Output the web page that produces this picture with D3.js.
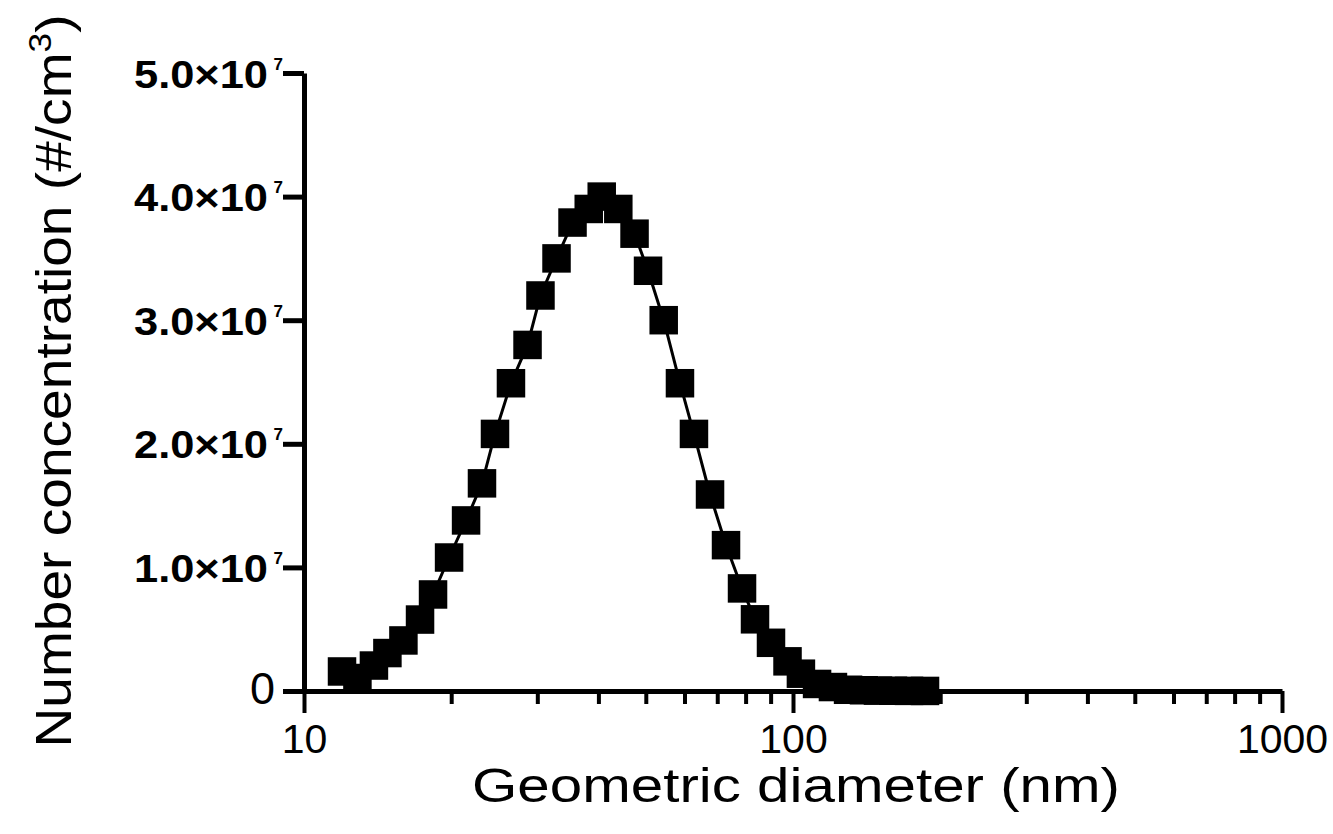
<!DOCTYPE html>
<html>
<head>
<meta charset="utf-8">
<script src="https://cdn.jsdelivr.net/npm/d3@7"></script>
<style>
  html, body { margin: 0; padding: 0; background: #fff; }
  svg { display: block; }
  text { font-family: "Liberation Sans", Arial, Helvetica, sans-serif; fill: #000; }
</style>
</head>
<body>
<svg id="chart" width="1333" height="834"></svg>
<script>
// ---- data ----
const diameters = [11.96, 12.86, 13.90, 14.81, 15.97, 17.27, 18.36, 19.80, 21.45, 23.12,
  24.58, 26.50, 28.65, 30.45, 32.84, 35.41, 38.22, 40.63, 43.93, 47.42,
  50.53, 54.40, 58.73, 62.73, 67.66, 72.95, 78.66, 83.62, 90.16, 97.45,
  103.8, 112.0, 120.7, 129.6, 139.7, 149.2, 160.1, 172.7, 186.2];
const concentrations = [1.58e6, 1.05e6, 2.06e6, 3.07e6, 4.09e6, 5.78e6, 7.81e6, 1.08e7, 1.38e7, 1.68e7,
  2.08e7, 2.49e7, 2.80e7, 3.20e7, 3.50e7, 3.79e7, 3.90e7, 4.00e7, 3.90e7, 3.70e7,
  3.40e7, 3.00e7, 2.49e7, 2.08e7, 1.59e7, 1.18e7, 8.3e6, 5.8e6, 3.9e6, 2.4e6,
  1.4e6, 5.7e5, 3.2e5, 1.0e5, 6e4, 3e4, 2e4, 1e4, 5e3];

const xMajorTicks = [10, 100, 1000];
const xMajorLabels = ["10", "100", "1000"];
const xMinorTicks = [20, 30, 40, 50, 60, 70, 80, 90, 200, 300, 400, 500, 600, 700, 800, 900];
const yTicks = [0, 1e7, 2e7, 3e7, 4e7, 5e7];
const yTickMantissas = ["0", "1.0×10", "2.0×10", "3.0×10", "4.0×10", "5.0×10"];
const yTickExponent = "7";
const xTitle = "Geometric diameter (nm)";
const yTitleMain = "Number concentration (#/cm";
const yTitleSup = "3";
const yTitleEnd = ")";

// ---- layout ----
const svg = d3.select("#chart");
const x = d3.scaleLog().domain([10, 1000]).range([304, 1282]);
const y = d3.scaleLinear().domain([0, 5e7]).range([691, 73]);

const AXW = 5;

// x axis: minor ticks
svg.append("g")
  .attr("transform", `translate(0,${y(0)})`)
  .call(d3.axisBottom(x).tickValues(xMinorTicks).tickSize(13).tickSizeOuter(0).tickFormat(""))
  .call(g => g.select(".domain").remove())
  .call(g => g.selectAll(".tick line").attr("stroke", "#000").attr("stroke-width", 4));

// x axis: major ticks + domain
svg.append("g")
  .attr("transform", `translate(0,${y(0)})`)
  .call(d3.axisBottom(x).tickValues(xMajorTicks).tickSize(22).tickSizeOuter(0)
        .tickFormat((d, i) => xMajorLabels[i]))
  .call(g => g.select(".domain").attr("stroke", "#000").attr("stroke-width", AXW))
  .call(g => g.selectAll(".tick line").attr("stroke", "#000").attr("stroke-width", 4))
  .call(g => g.selectAll(".tick text")
      .attr("y", 62).attr("dy", 0)
      .attr("font-size", 41).attr("font-family", "'Liberation Sans', Arial, sans-serif")
      .attr("fill", "#000"));

// y axis
const yAxisG = svg.append("g")
  .attr("transform", `translate(${x(10)},0)`)
  .call(d3.axisLeft(y).tickValues(yTicks).tickSize(21).tickSizeOuter(0).tickFormat(""))
  .call(g => g.select(".domain").attr("stroke", "#000").attr("stroke-width", AXW))
  .call(g => g.selectAll(".tick line").attr("stroke", "#000").attr("stroke-width", AXW));

yAxisG.selectAll(".tick").each(function(d, i) {
  const t = d3.select(this);
  if (d === 0) {
    t.append("text")
      .attr("x", -29).attr("y", -4).attr("dy", "0.36em")
      .attr("text-anchor", "end")
      .attr("font-size", 45)
      .text(yTickMantissas[i]);
  } else {
    t.append("text")
      .attr("x", -36).attr("y", 0).attr("dy", "0.36em")
      .attr("text-anchor", "end")
      .attr("font-size", 39).attr("font-weight", "bold")
      .attr("textLength", 134).attr("lengthAdjust", "spacingAndGlyphs")
      .text(yTickMantissas[i]);
    t.append("text")
      .attr("x", -21).attr("y", -4)
      .attr("font-size", 17).attr("font-weight", "bold")
      .text(yTickExponent);
  }
});

// ---- line and markers ----
const pts = diameters.map((d, i) => [d, concentrations[i]]);
svg.append("path")
  .datum(pts)
  .attr("fill", "none")
  .attr("stroke", "#000")
  .attr("stroke-width", 3)
  .attr("d", d3.line().x(d => x(d[0])).y(d => y(d[1])));

const S = 28.5;
svg.append("g").selectAll("rect")
  .data(pts)
  .join("rect")
  .attr("x", d => x(d[0]) - S / 2)
  .attr("y", d => y(d[1]) - S / 2)
  .attr("width", S)
  .attr("height", S)
  .attr("fill", "#000");

// ---- axis titles ----
svg.append("text")
  .attr("x", 796).attr("y", 802)
  .attr("text-anchor", "middle")
  .attr("font-size", 49)
  .attr("textLength", 648).attr("lengthAdjust", "spacingAndGlyphs")
  .text(xTitle);

const yt = svg.append("text")
  .attr("transform", "translate(71,381) rotate(-90)")
  .attr("text-anchor", "middle")
  .attr("font-size", 50)
  .attr("textLength", 733).attr("lengthAdjust", "spacingAndGlyphs");
yt.append("tspan").text(yTitleMain);
yt.append("tspan").attr("dy", -20).attr("font-size", 32).text(yTitleSup);
yt.append("tspan").attr("dy", 20).text(yTitleEnd);
</script>
</body>
</html>
